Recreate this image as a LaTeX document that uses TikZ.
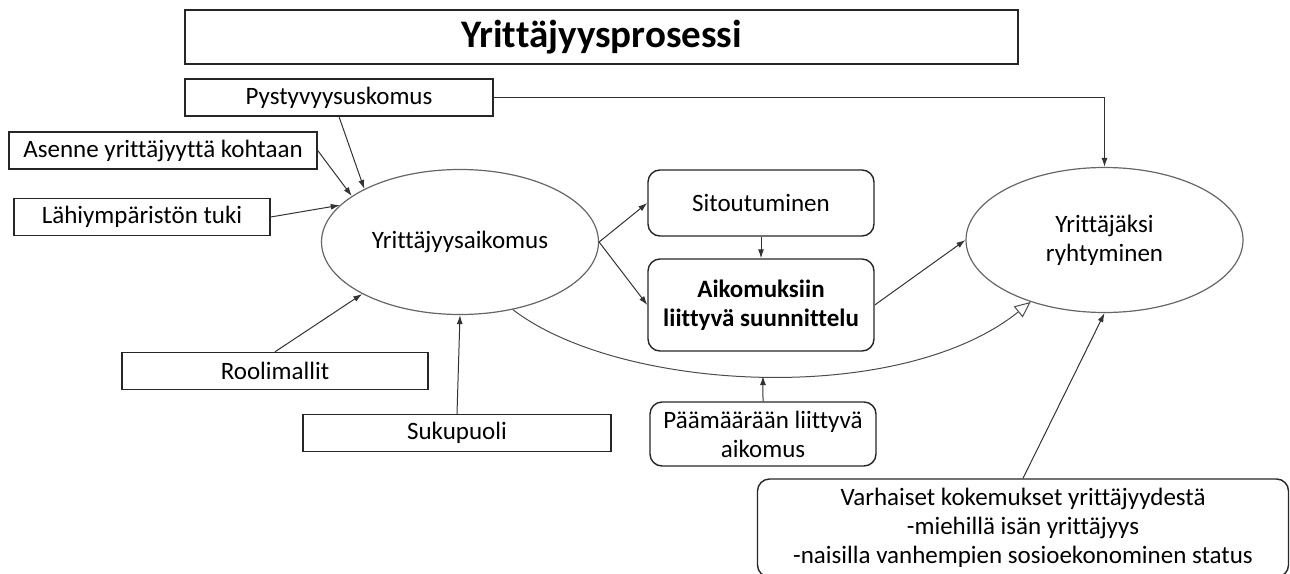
\documentclass[tikz,border=0pt]{standalone}
\usepackage{fontspec}
\setmainfont{Carlito}[Ligatures=NoCommon]
\usetikzlibrary{shapes.geometric,arrows.meta,positioning}

\begin{document}
\begin{tikzpicture}[x=1pt,y=-1pt,
	teksti/.style={font=\fontsize{25}{29}\selectfont,align=center,inner sep=0pt},
	kehys/.style={teksti,draw=black!85,line width=1.4pt,minimum height=37pt},
	pyorea/.style={teksti,draw=black!85,line width=1.4pt,rounded corners=12pt,minimum width=226pt},
	soikio/.style={teksti,ellipse,draw=black!60,line width=1.2pt,minimum width=277pt,minimum height=145pt},
	nuoli/.style={-{Latex[length=9pt,width=6pt]},draw=black!80,line width=1pt},
	kaari/.style={-{Triangle[open,length=16pt,width=14pt]},draw=black!70,line width=1pt}]
	\useasboundingbox (0,0) rectangle (1290,573);
	\clip (0,0) rectangle (1290,573);
				% otsikko
				\node[kehys,minimum width=833pt,minimum height=54pt,font=\bfseries\fontsize{39}{44}\selectfont] (otsikko) at (601.5,37) {Yrittäjyysprosessi};
				% taustatekijat
				\node[kehys,minimum width=308pt] (pysty) at (339,97.5) {Pystyvyysuskomus};
				\node[kehys,minimum width=308pt] (asenne) at (163,150.5) {Asenne yrittäjyyttä kohtaan};
				\node[kehys,minimum width=256pt] (tuki) at (142,217) {Lähiympäristön tuki};
				\node[kehys,minimum width=306pt] (roolit) at (275,371) {Roolimallit};
				\node[kehys,minimum width=308pt] (suku) at (457,433) {Sukupuoli};
				% keskiosa
				\node[soikio] (aikomus) at (460,242) {Yrittäjyysaikomus};
				\node[pyorea,minimum height=66pt] (sitou) at (761,203) {Sitoutuminen};
				\node[pyorea,minimum height=92pt,font=\bfseries\fontsize{25}{29}\selectfont] (suunn) at (761,305) {Aikomuksiin\\liittyvä suunnittelu};
				\node[pyorea,minimum height=64pt] (paamaara) at (763,434) {Päämäärään liittyvä\\aikomus};
				\node[soikio] (ryhtym) at (1104.5,240) {Yrittäjäksi\\ryhtyminen};
				\node[pyorea,minimum width=531pt,minimum height=98pt] (varh) at (1023,528) {Varhaiset kokemukset yrittäjyydestä\\-miehillä isän yrittäjyys\\-naisilla vanhempien sosioekonominen status};
				% nuolet
				\draw[nuoli] (pysty.south) -- (aikomus.151);
				\draw[nuoli] (asenne.east) -- (aikomus.157);
				\draw[nuoli] (tuki.east) -- (aikomus.163);
				\draw[nuoli] (roolit.north) -- (aikomus.208);
				\draw[nuoli] (suku.north) -- (aikomus.south);
				\draw[nuoli] (aikomus.east) -- (sitou.west);
				\draw[nuoli] (aikomus.east) -- (suunn.west);
				\draw[nuoli] (sitou.south) -- (suunn.north);
				\draw[nuoli] (suunn.east) -- (ryhtym.west);
				\draw[nuoli] (pysty.east) -| (ryhtym.north);
				\draw[nuoli] (varh.north) -- (ryhtym.south);
				\draw[kaari] (aikomus.-52) .. controls (620,392) and (900,407) .. (ryhtym.220) coordinate[pos=0.5] (kaaripohja);
				\draw[nuoli] (paamaara.north) -- (kaaripohja);
\end{tikzpicture}
\end{document}
